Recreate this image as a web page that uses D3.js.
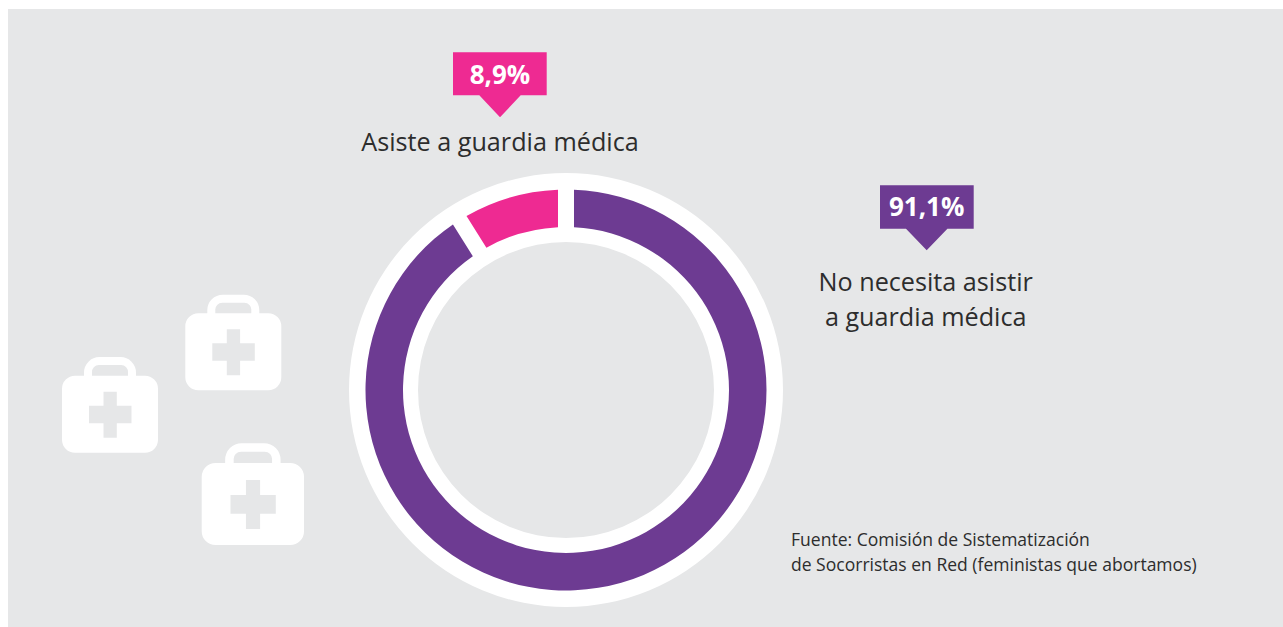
<!DOCTYPE html>
<html lang="es">
<head>
  <meta charset="utf-8">
  <title>Guardia médica</title>
  <script src="https://d3js.org/d3.v7.min.js"></script>
  <style>
    html, body { margin: 0; padding: 0; background: #fff; }
    svg { display: block; }
    text { font-family: "Open Sans", sans-serif; }
  </style>
</head>
<body>
  <script type="text/javascript">
    // data
    var categories = ["No necesita asistir", "Asiste a guardia médica"];
    var values = [91.1, 8.9];
    var valueLabels = ["91,1%", "8,9%"];
    var categoryLines = [["No necesita asistir", "a guardia médica"], ["Asiste a guardia médica"]];
    var sourceLines = ["Fuente: Comisión de Sistematización", "de Socorristas en Red (feministas que abortamos)"];
    var colors = ["#6d3b92", "#ee2a92"];

    var width = 1283, height = 627;
    var cx = 566, cy = 390;

    var svg = d3.select("body").append("svg")
      .attr("width", width)
      .attr("height", height);

    svg.append("rect")
      .attr("x", 8).attr("y", 9)
      .attr("width", width - 8).attr("height", height - 9)
      .attr("fill", "#e6e7e8");

    // first aid kits in the background
    var kit = "M13 0H83A13 13 0 0 1 96 13V64A13 13 0 0 1 83 77H13A13 13 0 0 1 0 64V13A13 13 0 0 1 13 0Z"
      + "M41.5 16V30H27V47.5H41.5V62H54.8V47.5H69.5V30H54.8V16Z"
      + "M22 0V-3A15.5 15.5 0 0 1 37.5 -18.6H58.5A15.5 15.5 0 0 1 74 -3V0H66V-3A7 7 0 0 0 59 -10.6H37A7 7 0 0 0 30 -3V0Z";
    var kits = [[62, 375.7, 1], [185.3, 313.3, 1], [201.7, 463, 1.066]];

    svg.selectAll("path.kit").data(kits).enter().append("path")
      .attr("class", "kit")
      .attr("d", kit)
      .attr("fill", "#fff")
      .attr("fill-rule", "evenodd")
      .attr("transform", function(d) { return "translate(" + d[0] + "," + d[1] + ") scale(" + d[2] + ")"; });

    // white ring behind the donut
    var g = svg.append("g").attr("transform", "translate(" + cx + "," + cy + ")");

    g.append("path")
      .attr("d", d3.arc().innerRadius(148).outerRadius(217).startAngle(0).endAngle(2 * Math.PI)())
      .attr("fill", "#fff");

    var pie = d3.pie().sort(null);
    var arc = d3.arc().innerRadius(163).outerRadius(200.5).padAngle(16 / 200).padRadius(200);

    g.selectAll("path.slice").data(pie(values)).enter().append("path")
      .attr("class", "slice")
      .attr("d", arc)
      .attr("fill", function(d, i) { return colors[i]; });

    // callouts: box, pointer, percent and category label
    var callouts = [
      { x: 880, y: 185.3, w: 93.7, h: 43.4, px: 926.7, pb: 20.7, pt: 21.6, textY: 216, lineY: 291 },
      { x: 453, y: 52.3, w: 93.7, h: 43, px: 500, pb: 20.7, pt: 22, textY: 84, lineY: 151 }
    ];

    var call = svg.selectAll("g.callout").data(callouts).enter().append("g").attr("class", "callout");

    call.append("path")
      .attr("fill", function(d, i) { return colors[i]; })
      .attr("d", function(d) {
        var b = d.y + d.h;
        return "M" + d.x + " " + d.y + "H" + (d.x + d.w) + "V" + b
          + "H" + (d.px + d.pb) + "L" + d.px + " " + (b + d.pt) + "L" + (d.px - d.pb) + " " + b
          + "H" + d.x + "Z";
      });

    call.append("text")
      .attr("x", function(d) { return d.px; })
      .attr("y", function(d) { return d.textY; })
      .attr("text-anchor", "middle")
      .attr("font-size", 26)
      .attr("font-weight", 700)
      .attr("fill", "#fff")
      .text(function(d, i) { return valueLabels[i]; });

    call.each(function(d, i) {
      d3.select(this).selectAll("text.line").data(categoryLines[i]).enter().append("text")
        .attr("class", "line")
        .attr("x", d.px - (i == 0 ? 1 : 0))
        .attr("y", function(l, j) { return d.lineY + j * 35; })
        .attr("text-anchor", "middle")
        .attr("font-size", 25.2)
        .attr("fill", "#2d2d2d")
        .text(function(l) { return l; });
    });

    svg.selectAll("text.source").data(sourceLines).enter().append("text")
      .attr("class", "source")
      .attr("x", 791)
      .attr("y", function(d, i) { return 546 + i * 25; })
      .attr("font-size", 17.55)
      .attr("fill", "#2d2d2d")
      .text(function(d) { return d; });
  </script>
</body>
</html>
